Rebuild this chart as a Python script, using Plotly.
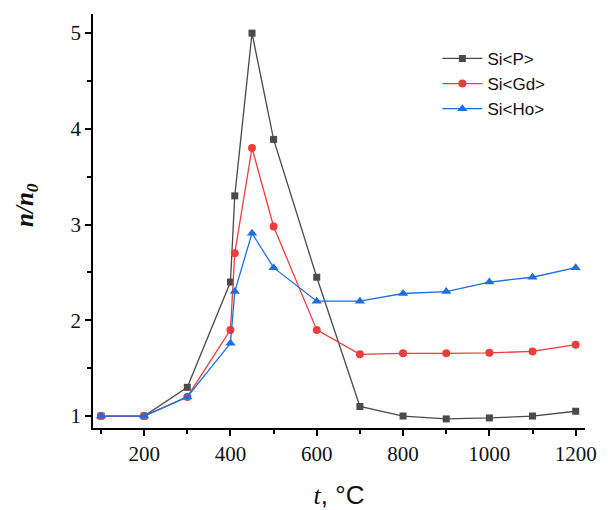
import plotly.graph_objects as go

temps = [100, 200, 300, 400, 410, 450, 500, 600, 700, 800, 900, 1000, 1100, 1200]
si_p = [1.0, 1.0, 1.3, 2.4, 3.3, 5.0, 3.89, 2.45, 1.10, 1.0, 0.97, 0.98, 1.0, 1.05]
si_gd = [1.0, 1.0, 1.2, 1.9, 2.7, 3.8, 2.98, 1.9, 1.645, 1.655, 1.655, 1.66, 1.675, 1.745]
si_ho = [1.0, 1.0, 1.2, 1.76, 2.3, 2.91, 2.55, 2.2, 2.2, 2.28, 2.3, 2.4, 2.45, 2.55]

fig = go.Figure()
series = [
    ("Si&lt;P&gt;", si_p, "#4a4a4a", "square", 7),
    ("Si&lt;Gd&gt;", si_gd, "#f03c3c", "circle", 8),
    ("Si&lt;Ho&gt;", si_ho, "#1e6ee0", "triangle-up", 9),
]
for name, vals, col, sym, sz in series:
    fig.add_trace(go.Scatter(
        x=temps, y=vals, mode="lines+markers", name=name,
        line=dict(color=col, width=1.3),
        marker=dict(symbol=sym, size=sz, color=col),
    ))

fig.update_layout(
    width=608, height=510,
    margin=dict(l=93, r=23, t=14, b=82),
    plot_bgcolor="white", paper_bgcolor="white",
    showlegend=True,
    legend=dict(x=0.70, y=0.935, xanchor="left", yanchor="top",
                font=dict(family="Liberation Sans", size=17, color="#111"),
                bgcolor="rgba(0,0,0,0)", tracegroupgap=0, itemwidth=40),
    xaxis=dict(
        range=[81.5, 1221.6], tickvals=[200, 400, 600, 800, 1000, 1200],
        automargin=False,
        ticks="outside", ticklen=6, tickwidth=1.5, tickcolor="black",
        showline=True, linecolor="black", linewidth=1.5, mirror=False,
        showgrid=False, zeroline=False,
        minor=dict(tickvals=[100, 300, 500, 700, 900, 1100], ticks="outside",
                   ticklen=4, tickwidth=1.5, tickcolor="black"),
        tickfont=dict(family="Liberation Serif", size=21, color="#111"),
        title=dict(text='<span style="font-family:Liberation Serif"><i>t</i></span>, °C',
                   font=dict(family="Liberation Sans", size=26, color="#111"), standoff=22),
    ),
    yaxis=dict(
        range=[0.875, 5.2], tickvals=[1, 2, 3, 4, 5],
        automargin=False,
        ticks="outside", ticklen=6, tickwidth=1.5, tickcolor="black",
        showline=True, linecolor="black", linewidth=1.5, mirror=False,
        showgrid=False, zeroline=False,
        minor=dict(tickvals=[1.5, 2.5, 3.5, 4.5], ticks="outside",
                   ticklen=4, tickwidth=1.5, tickcolor="black"),
        tickfont=dict(family="Liberation Serif", size=21, color="#111"),
    ),
    annotations=[dict(
        text="<b><i>n/n<sub>0</sub></i></b>", textangle=-90,
        xref="paper", yref="paper", x=-0.134, y=0.539,
        xanchor="center", yanchor="middle", showarrow=False,
        font=dict(family="Liberation Serif", size=25, color="#111"),
    )],
)

fig.write_html("out.html")
